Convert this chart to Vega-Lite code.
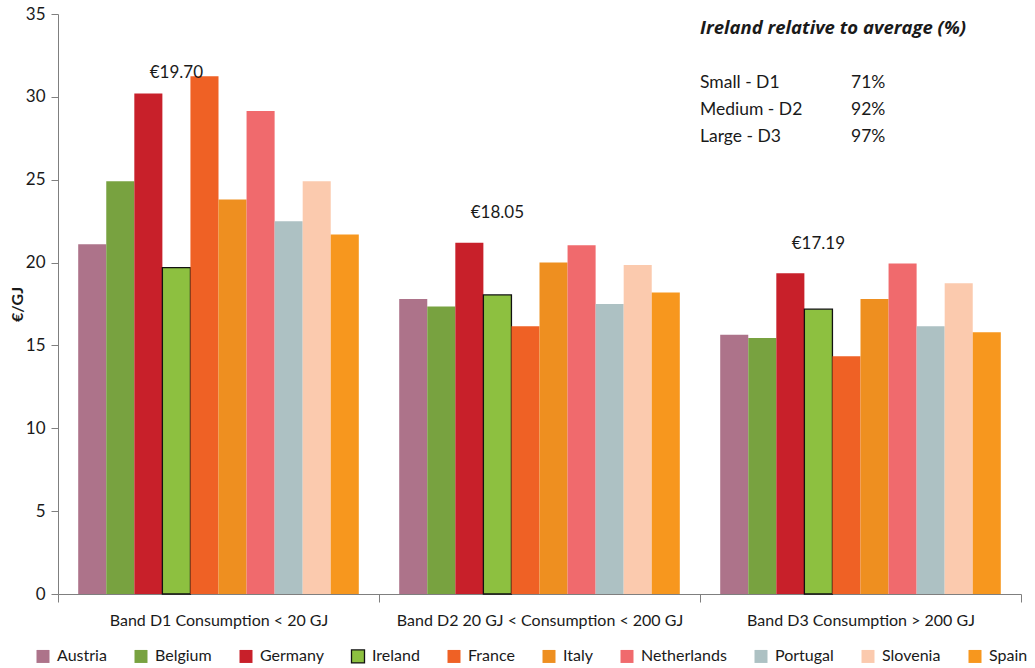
{
  "$schema": "https://vega.github.io/schema/vega-lite/v6.json",
  "width": 963,
  "height": 580,
  "autosize": "none",
  "padding": {"left": 58, "top": 14, "right": 14, "bottom": 74},
  "config": {"view": {"stroke": null}, "font": "Lato", "text": {"font": "Lato", "color": "#1a1a1a"}},
  "datasets": {
    "prices": [
      {"band": "Band D1  Consumption < 20 GJ", "country": "Austria", "price": 21.1},
      {"band": "Band D1  Consumption < 20 GJ", "country": "Belgium", "price": 24.9},
      {"band": "Band D1  Consumption < 20 GJ", "country": "Germany", "price": 30.2},
      {"band": "Band D1  Consumption < 20 GJ", "country": "Ireland", "price": 19.7},
      {"band": "Band D1  Consumption < 20 GJ", "country": "France", "price": 31.25},
      {"band": "Band D1  Consumption < 20 GJ", "country": "Italy", "price": 23.8},
      {"band": "Band D1  Consumption < 20 GJ", "country": "Netherlands", "price": 29.15},
      {"band": "Band D1  Consumption < 20 GJ", "country": "Portugal", "price": 22.5},
      {"band": "Band D1  Consumption < 20 GJ", "country": "Slovenia", "price": 24.9},
      {"band": "Band D1  Consumption < 20 GJ", "country": "Spain", "price": 21.7},
      {"band": "Band D2  20 GJ < Consumption < 200 GJ", "country": "Austria", "price": 17.8},
      {"band": "Band D2  20 GJ < Consumption < 200 GJ", "country": "Belgium", "price": 17.35},
      {"band": "Band D2  20 GJ < Consumption < 200 GJ", "country": "Germany", "price": 21.2},
      {"band": "Band D2  20 GJ < Consumption < 200 GJ", "country": "Ireland", "price": 18.05},
      {"band": "Band D2  20 GJ < Consumption < 200 GJ", "country": "France", "price": 16.15},
      {"band": "Band D2  20 GJ < Consumption < 200 GJ", "country": "Italy", "price": 20.0},
      {"band": "Band D2  20 GJ < Consumption < 200 GJ", "country": "Netherlands", "price": 21.05},
      {"band": "Band D2  20 GJ < Consumption < 200 GJ", "country": "Portugal", "price": 17.5},
      {"band": "Band D2  20 GJ < Consumption < 200 GJ", "country": "Slovenia", "price": 19.85},
      {"band": "Band D2  20 GJ < Consumption < 200 GJ", "country": "Spain", "price": 18.2},
      {"band": "Band D3  Consumption > 200 GJ", "country": "Austria", "price": 15.65},
      {"band": "Band D3  Consumption > 200 GJ", "country": "Belgium", "price": 15.45},
      {"band": "Band D3  Consumption > 200 GJ", "country": "Germany", "price": 19.35},
      {"band": "Band D3  Consumption > 200 GJ", "country": "Ireland", "price": 17.19},
      {"band": "Band D3  Consumption > 200 GJ", "country": "France", "price": 14.35},
      {"band": "Band D3  Consumption > 200 GJ", "country": "Italy", "price": 17.8},
      {"band": "Band D3  Consumption > 200 GJ", "country": "Netherlands", "price": 19.95},
      {"band": "Band D3  Consumption > 200 GJ", "country": "Portugal", "price": 16.15},
      {"band": "Band D3  Consumption > 200 GJ", "country": "Slovenia", "price": 18.75},
      {"band": "Band D3  Consumption > 200 GJ", "country": "Spain", "price": 15.8}
    ],
    "notes": [
      {"band": "Band D1  Consumption < 20 GJ", "country": "Ireland", "label": "€19.70", "ly": 31.45},
      {"band": "Band D2  20 GJ < Consumption < 200 GJ", "country": "Ireland", "label": "€18.05", "ly": 23.0},
      {"band": "Band D3  Consumption > 200 GJ", "country": "Ireland", "label": "€17.19", "ly": 21.1}
    ],
    "inset": [
      {"label": "Small - D1", "pct": "71%", "ly": 30.84},
      {"label": "Medium - D2", "pct": "\u00a092%", "ly": 29.2},
      {"label": "Large - D3", "pct": "\u00a097%", "ly": 27.58}
    ],
    "heading": [
      {"label": "Ireland relative to average (%)", "ly": 34.15}
    ]
  },
  "layer": [
    {
      "data": {"name": "prices"},
      "mark": {"type": "bar", "strokeWidth": 1.3},
      "encoding": {
        "x": {
          "field": "band", "type": "nominal",
          "scale": {"domain": ["Band D1  Consumption < 20 GJ", "Band D2  20 GJ < Consumption < 200 GJ", "Band D3  Consumption > 200 GJ"], "paddingInner": 0, "paddingOuter": 0},
          "axis": {"title": null, "labelAngle": 0, "tickBand": "extent", "domainColor": "#7f7f7f", "tickColor": "#7f7f7f", "tickSize": 8, "labelPadding": 10, "labelFont": "Lato", "labelFontSize": 16, "labelLimit": 400, "labelColor": "#1a1a1a"}
        },
        "xOffset": {
          "field": "country", "type": "nominal",
          "scale": {"domain": ["Austria", "Belgium", "Germany", "Ireland", "France", "Italy", "Netherlands", "Portugal", "Slovenia", "Spain"], "paddingInner": 0, "paddingOuter": 0.72}
        },
        "y": {
          "field": "price", "type": "quantitative",
          "scale": {"domain": [0, 35], "nice": false},
          "axis": {"title": "€/GJ", "titleFontSize": 16, "titleFontWeight": "bold", "titleColor": "#1a1a1a", "titlePadding": 0, "grid": false, "values": [0, 5, 10, 15, 20, 25, 30, 35], "labelOverlap": false, "labelFlush": false, "domainColor": "#7f7f7f", "tickColor": "#7f7f7f", "tickSize": 7, "labelPadding": 6, "labelFontSize": 17, "labelColor": "#1a1a1a"}
        },
        "color": {
          "field": "country", "type": "nominal",
          "scale": {"domain": ["Austria", "Belgium", "Germany", "Ireland", "France", "Italy", "Netherlands", "Portugal", "Slovenia", "Spain"],
                    "range": ["#AD738A", "#78A240", "#C8202A", "#8DC040", "#EF6125", "#EE8F20", "#F06A6D", "#ADC1C3", "#FBCAAE", "#F7971E"]},
          "legend": {"title": null, "orient": "none", "legendX": -23, "legendY": 634, "direction": "horizontal", "columns": 10, "symbolType": "square", "symbolSize": 169, "symbolOpacity": 1, "symbolStrokeWidth": 1.3, "labelFontSize": 16, "labelColor": "#1a1a1a", "labelOffset": 6, "columnPadding": 24, "padding": 0}
        },
        "stroke": {
          "field": "country", "type": "nominal",
          "scale": {"domain": ["Austria", "Belgium", "Germany", "Ireland", "France", "Italy", "Netherlands", "Portugal", "Slovenia", "Spain"],
                    "range": ["transparent", "transparent", "transparent", "#111111", "transparent", "transparent", "transparent", "transparent", "transparent", "transparent"]},
          "legend": {"title": null, "orient": "none", "legendX": -23, "legendY": 634, "direction": "horizontal", "columns": 10, "symbolType": "square", "symbolSize": 169, "symbolOpacity": 1, "symbolStrokeWidth": 1.3, "labelFontSize": 16, "labelColor": "#1a1a1a", "labelOffset": 6, "columnPadding": 24, "padding": 0}
        }
      }
    },
    {
      "data": {"name": "notes"},
      "mark": {"type": "text", "fontSize": 17, "align": "center", "baseline": "middle"},
      "encoding": {
        "x": {"field": "band", "type": "nominal"},
        "xOffset": {"field": "country", "type": "nominal"},
        "y": {"field": "ly", "type": "quantitative"},
        "text": {"field": "label"}
      }
    },
    {
      "data": {"name": "heading"},
      "mark": {"type": "text", "font": "Open Sans", "fontSize": 18.5, "fontWeight": "bold", "fontStyle": "italic", "align": "left", "baseline": "middle"},
      "encoding": {
        "x": {"datum": "Band D3  Consumption > 200 GJ", "type": "nominal", "bandPosition": 0},
        "y": {"field": "ly", "type": "quantitative"},
        "text": {"field": "label"}
      }
    },
    {
      "data": {"name": "inset"},
      "mark": {"type": "text", "fontSize": 17.5, "align": "left", "baseline": "middle"},
      "encoding": {
        "x": {"datum": "Band D3  Consumption > 200 GJ", "type": "nominal", "bandPosition": 0},
        "y": {"field": "ly", "type": "quantitative"},
        "text": {"field": "label"}
      }
    },
    {
      "data": {"name": "inset"},
      "mark": {"type": "text", "fontSize": 17.5, "align": "left", "baseline": "middle", "dx": 151},
      "encoding": {
        "x": {"datum": "Band D3  Consumption > 200 GJ", "type": "nominal", "bandPosition": 0},
        "y": {"field": "ly", "type": "quantitative"},
        "text": {"field": "pct"}
      }
    }
  ]
}
